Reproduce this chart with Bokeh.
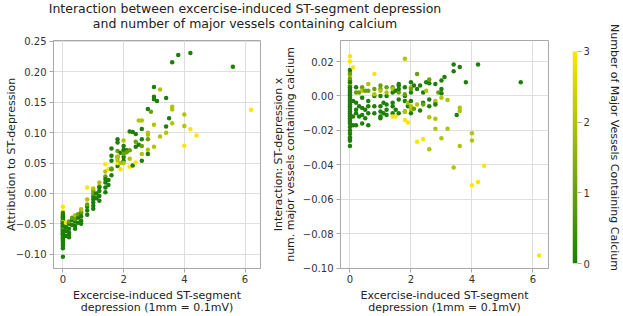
import numpy as np
from bokeh.plotting import figure
from bokeh.layouts import column, row
from bokeh.models import (ColumnDataSource, LinearColorMapper, FixedTicker,
                          CustomJSTickFormatter, Range1d)
from bokeh.transform import transform
from bokeh.core.properties import value
from bokeh.embed import file_html
from bokeh.resources import INLINE

# ---------------- data ----------------
title_lines = ["Interaction between excercise-induced ST-segment depression",
               "and number of major vessels containing calcium"]
x_label = "Excercise-induced ST-segment\ndepression (1mm = 0.1mV)"
y_label_left = "Attribution to ST-depression"
y_label_right = "Interaction: ST-depression x\nnum. major vessels containing calcium"
cbar_label = "Number of Major Vessels Containing Calcium"

x_ticks = [0, 2, 4, 6]
y_ticks_left = [-0.10, -0.05, 0.00, 0.05, 0.10, 0.15, 0.20, 0.25]
y_ticks_right = [-0.10, -0.08, -0.06, -0.04, -0.02, 0.00, 0.02]
cbar_ticks = [0, 1, 2, 3]

oldpeak = [
    0, 0, 0, 0, 0, 0, 0, 0, 0, 0, 0, 0, 0, 0, 0, 0, 0, 0, 0, 0,
    0, 0, 0, 0, 0, 0, 0, 0, 0, 0, 0, 0, 0, 0, 0, 0, 0, 0, 0, 0,
    0.1, 0.1, 0.1, 0.1, 0.2, 0.2, 0.2, 0.2, 0.2, 0.2, 0.3, 0.3, 0.3,
    0.4, 0.4, 0.4, 0.4, 0.4, 0.4, 0.5, 0.5, 0.5, 0.6, 0.6, 0.6, 0.6, 0.6, 0.6,
    0.8, 0.8, 0.8, 0.8, 0.8, 0.8, 1.0, 1.0, 1.0, 1.0, 1.0, 1.0, 1.0, 1.0,
    1.1, 1.1, 1.2, 1.2, 1.2, 1.2, 1.2, 1.2,
    1.4, 1.4, 1.4, 1.4, 1.4, 1.4, 1.4, 1.5, 1.5, 1.5, 1.6, 1.6, 1.6, 1.6, 1.6, 1.6,
    1.8, 1.8, 1.8, 1.8, 1.8, 1.8, 1.8, 1.8, 1.9, 1.9, 1.9,
    2.0, 2.0, 2.0, 2.0, 2.0, 2.0, 2.0, 2.0,
    2.1, 2.1, 2.2, 2.2, 2.2, 2.2, 2.3, 2.3,
    2.4, 2.4, 2.4, 2.4, 2.5, 2.5, 2.6, 2.6, 2.6, 2.6, 2.6, 2.6,
    2.8, 2.8, 2.8, 2.8, 2.8, 2.8, 2.9,
    3.0, 3.0, 3.0, 3.0, 3.0, 3.1, 3.2, 3.2,
    3.4, 3.4, 3.4, 3.5, 3.6, 3.6, 3.6, 3.6,
    3.8, 4.0, 4.0, 4.0, 4.2, 4.2, 4.4, 5.6, 6.2,
]

num_vessels = [
    3, 3, 2, 2, 1, 1, 0, 0, 0, 0, 0, 0, 0, 0, 0, 0, 0, 0, 0, 0,
    0, 0, 0, 0, 0, 0, 0, 0, 0, 0, 0, 0, 0, 0, 0, 1, 2, 0, 0, 0,
    3, 0, 0, 0, 0, 0, 0, 0, 1, 0, 0, 0, 1,
    0, 0, 0, 1, 2, 0, 0, 0, 1, 0, 0, 0, 0, 1, 2,
    0, 0, 0, 1, 2, 3, 0, 0, 0, 0, 1, 1, 2, 0,
    0, 0, 0, 0, 0, 1, 2, 0,
    0, 0, 0, 1, 2, 3, 0, 0, 0, 3, 0, 0, 0, 0, 1, 0,
    0, 0, 0, 0, 2, 3, 2, 1, 0, 2, 3,
    0, 0, 2, 2, 2, 0, 1, 0,
    0, 1, 0, 1, 2, 3, 0, 0,
    0, 0, 3, 1, 0, 2, 2, 0, 0, 1, 0, 2,
    0, 2, 2, 1, 2, 0, 1,
    0, 0, 0, 2, 2, 0, 2, 2,
    0, 0, 2, 0, 0, 2, 2, 2,
    0, 2, 2, 3, 0, 3, 3, 0, 3,
]

attribution = [
    -0.022, -0.030, -0.036, -0.040, -0.045, -0.050, -0.032, -0.035, -0.038, -0.040,
    -0.042, -0.044, -0.046, -0.048, -0.050, -0.052, -0.054, -0.055, -0.057, -0.059,
    -0.060, -0.062, -0.064, -0.066, -0.068, -0.070, -0.072, -0.074, -0.076, -0.078,
    -0.080, -0.083, -0.086, -0.090, -0.104, -0.055, -0.047, -0.053, -0.049, -0.067,
    -0.048, -0.062, -0.070, -0.055, -0.050, -0.058, -0.064, -0.068, -0.046, -0.072,
    -0.044, -0.052, -0.040,
    -0.038, -0.046, -0.053, -0.042, -0.036, -0.058, -0.040, -0.048, -0.034,
    -0.032, -0.038, -0.045, -0.050, -0.030, -0.026,
    -0.028, -0.022, -0.035, -0.018, -0.010, 0.010,
    -0.020, -0.015, -0.010, -0.005, 0.005, 0.000, 0.008, -0.025,
    -0.008, 0.000, -0.012, -0.004, 0.004, 0.012, 0.018, 0.010,
    0.002, 0.010, 0.018, 0.028, 0.036, 0.048, 0.024, 0.014, 0.022, 0.040,
    0.030, 0.040, 0.054, 0.062, 0.041, 0.074,
    0.045, 0.060, 0.084, 0.089, 0.061, 0.050, 0.055, 0.070, 0.067, 0.050, 0.040,
    0.054, 0.078, 0.087, 0.070, 0.050, 0.060, 0.065, 0.072,
    0.071, 0.068, 0.102, 0.071, 0.057, 0.044, 0.101, 0.046,
    0.098, 0.077, 0.051, 0.085, 0.080, 0.120, 0.120, 0.106, 0.089, 0.078, 0.054, 0.065,
    0.139, 0.100, 0.0965, 0.089, 0.072, 0.065, 0.1345,
    0.175, 0.159, 0.155, 0.113, 0.077, 0.152, 0.171, 0.0936,
    0.157, 0.110, 0.100, 0.1236, 0.2157, 0.1427, 0.138, 0.1154,
    0.2276, 0.130, 0.111, 0.0784, 0.231, 0.1056, 0.0953, 0.2085, 0.1377,
]

interaction = [
    0.023, 0.020, 0.014, 0.012, 0.010, 0.013, 0.015, 0.006, 0.004, 0.002,
    0.000, -0.002, -0.004, 0.003, -0.006, -0.008, 0.001, -0.010, -0.003, -0.012,
    -0.005, -0.014, -0.007, -0.016, -0.009, -0.018, -0.001, -0.011, -0.020, -0.022,
    -0.013, -0.025, -0.026, -0.029, -0.024, 0.009, 0.007, 0.008, -0.015, 0.005,
    0.0165, -0.003, -0.012, -0.017, 0.005, -0.004, -0.010, -0.017, 0.002, -0.008,
    -0.006, -0.012, 0.002,
    -0.007, -0.011, -0.016, 0.005, 0.003, -0.001, -0.008, -0.013, 0.003,
    -0.006, -0.010, -0.017, -0.003, 0.003, 0.007,
    -0.006, -0.010, 0.000, 0.004, 0.001, 0.0127,
    -0.006, -0.012, 0.000, -0.009, 0.004, 0.006, 0.003, -0.013,
    -0.004, -0.010, -0.005, -0.011, 0.000, 0.005, 0.002, -0.008,
    -0.006, -0.010, 0.002, 0.005, 0.004, -0.012, -0.004, -0.008, 0.003, -0.012,
    -0.002, 0.006, -0.010, 0.007, 0.002, 0.004,
    -0.009, 0.000, 0.005, -0.003, -0.009, -0.014, 0.0216, 0.001, -0.006, -0.004, -0.0154,
    0.008, -0.003, 0.005, -0.006, -0.008, 0.002, 0.004, -0.010,
    0.006, -0.0075, 0.004, 0.0127, -0.005, -0.0266, 0.006, -0.0085,
    -0.004, 0.002, -0.025, -0.005, 0.0079, 0.003, -0.0123, 0.0074, -0.006, 0.0096, -0.002, -0.031,
    0.007, -0.0133, -0.019, -0.004, -0.003, -0.005, 0.002,
    0.009, 0.0015, 0.004, -0.0245, -0.001, 0.011, -0.019, -0.0023,
    0.0183, 0.0143, -0.0416, -0.011, 0.0168, -0.0068, -0.0087, -0.029,
    0.0079, -0.0216, -0.0258, -0.0518, 0.0183, -0.050, -0.0405, 0.0079, -0.0927,
]

assert len(oldpeak) == len(num_vessels) == len(attribution) == len(interaction)

# ---------------- styling ----------------
FONT = "DejaVu Sans"
TXT = "#222222"
GRAY = "#a8a8a8"
GRID = "#dedede"

c_lo = np.array([0x1e, 0x7f, 0x08])
c_hi = np.array([0xfb, 0xe6, 0x00])
palette = ["#%02x%02x%02x" % tuple(int(round(v)) for v in c_lo + (c_hi - c_lo) * t)
           for t in np.linspace(0, 1, 256)]
mapper = LinearColorMapper(palette=palette, low=0, high=3)

src = ColumnDataSource(dict(x=oldpeak, ca=num_vessels, a=attribution, i=interaction))

ytick_fmt = CustomJSTickFormatter(
    code="return (tick < -1e-9 ? '\\u2212' : '') + Math.abs(tick).toFixed(2);")


def style(p):
    p.title.visible = False
    p.outline_line_color = GRAY
    p.background_fill_color = "white"
    p.border_fill_color = "white"
    for ax in p.axis:
        ax.axis_line_color = GRAY
        ax.major_tick_line_color = GRAY
        ax.major_tick_out = 4
        ax.major_tick_in = 0
        ax.minor_tick_out = 0
        ax.minor_tick_in = 0
        ax.major_label_text_font = FONT
        ax.major_label_text_font_size = "10px"
        ax.major_label_text_color = "#333333"
        ax.major_label_standoff = 3
        ax.axis_label_text_font = FONT
        ax.axis_label_text_font_size = "11px"
        ax.axis_label_text_font_style = "normal"
        ax.axis_label_text_color = TXT
        ax.axis_label_text_line_height = 0.93
        ax.axis_label_standoff = 3
    for g in p.grid:
        g.grid_line_color = GRID
        g.grid_line_width = 1


# title figure (spans both panels)
p0 = figure(width=553, height=32, x_range=Range1d(0, 553), y_range=Range1d(0, 32),
            output_backend="svg", toolbar_location=None,
            x_axis_location=None, y_axis_location=None, min_border=0)
p0.title.visible = False
p0.grid.visible = False
p0.outline_line_color = None
p0.text(x=[244.5, 244.5], y=[24, 9], text=title_lines, text_align="center",
        text_baseline="middle", text_font=value(FONT), text_font_size="12.5px",
        text_color=TXT)

# left panel
p1 = figure(width=265, height=284, x_range=Range1d(-0.31, 6.51),
            y_range=Range1d(-0.1234, 0.2516), output_backend="svg",
            toolbar_location=None, min_border_left=53, min_border_right=5,
            min_border_top=8, min_border_bottom=47)
p1.scatter("x", "a", source=src, size=4.5, line_color=None,
           fill_color=transform("ca", mapper))
style(p1)
p1.xaxis.ticker = FixedTicker(ticks=x_ticks)
p1.xaxis.major_label_standoff = 2
p1.yaxis.ticker = FixedTicker(ticks=y_ticks_left)
p1.yaxis.formatter = ytick_fmt
p1.yaxis.axis_label_standoff = -5
p1.xaxis.axis_label = x_label
p1.yaxis.axis_label = y_label_left

# right panel
p2 = figure(width=288, height=284, x_range=Range1d(-0.31, 6.51),
            y_range=Range1d(-0.1002, 0.0322), output_backend="svg",
            toolbar_location=None, min_border_left=75, min_border_right=5,
            min_border_top=8, min_border_bottom=47)
p2.scatter("x", "i", source=src, size=4.5, line_color=None,
           fill_color=transform("ca", mapper))
style(p2)
p2.xaxis.ticker = FixedTicker(ticks=x_ticks)
p2.xaxis.major_label_standoff = 2
p2.yaxis.ticker = FixedTicker(ticks=y_ticks_right)
p2.yaxis.formatter = ytick_fmt
p2.xaxis.axis_label = x_label
p2.yaxis.axis_label = y_label_right

# colour bar
p3 = figure(width=70, height=316, x_range=Range1d(0, 1), y_range=Range1d(0, 3.283),
            output_backend="svg", toolbar_location=None,
            x_axis_location=None, y_axis_location="right",
            min_border_left=19, min_border_right=41, min_border_top=31,
            min_border_bottom=53)
grad = np.linspace(0, 3, 256).reshape(256, 1)
p3.image(image=[grad], x=0, y=0, dw=1, dh=3, color_mapper=mapper)
style(p3)
p3.grid.visible = False
p3.outline_line_color = None
p3.yaxis.axis_line_color = None
p3.yaxis.ticker = FixedTicker(ticks=cbar_ticks)
p3.yaxis.major_label_standoff = 2
p3.yaxis.axis_label = cbar_label
p3.yaxis.axis_label_standoff = 15

layout = row(column(p0, row(p1, p2)), p3)

open("out.html", "w").write(file_html(layout, INLINE))
